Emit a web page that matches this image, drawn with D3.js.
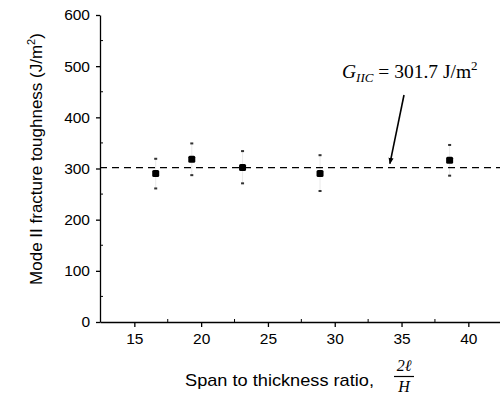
<!DOCTYPE html>
<html>
<head>
<meta charset="utf-8">
<script src="https://cdn.jsdelivr.net/npm/d3@7"></script>
<style>
  html, body { margin: 0; padding: 0; background: #fff; }
  svg { display: block; }
  .axis text { font-family: Arial, "Liberation Sans", sans-serif; font-size: 15.5px; fill: #000; }
</style>
</head>
<body>
<svg id="chart" width="500" height="395"></svg>
<script>
// data
const spanRatio = [16.6, 19.3, 23.1, 28.9, 38.6];
const toughness = [290, 318, 302, 290, 316];
const errUpper = [319, 349, 334, 326, 346];
const errLower = [261, 287, 271, 256, 286];
const meanToughness = 301.7;
const xTicks = [15, 20, 25, 30, 35, 40];
const xMinorTicks = [17.5, 22.5, 27.5, 32.5, 37.5, 42.5];
const yTicks = [0, 100, 200, 300, 400, 500, 600];
const yMinorTicks = [50, 150, 250, 350, 450, 550];

const width = 500;
const height = 395;
const svg = d3.select('#chart').attr('viewBox', `0 0 ${width} ${height}`);

const x = d3.scaleLinear().domain([12.43, 42.37]).range([100, 500]);
const y = d3.scaleLinear().domain([0, 600]).range([322, 15]);
const points = spanRatio.map((s, i) => ({ s, g: toughness[i], hi: errUpper[i], lo: errLower[i] }));

// axes: majors outward, minors inward
const xAxis = svg.append('g').attr('class', 'axis').attr('transform', `translate(0, ${y(0)})`)
  .call(d3.axisBottom(x).tickValues(xTicks).tickSize(5).tickPadding(6).tickSizeOuter(0));
xAxis.select('.domain').attr('stroke', '#000').attr('stroke-width', 1.3);
xAxis.selectAll('.tick line').attr('stroke-width', 1.3);
xAxis.selectAll('text').attr('dy', '0.71em');
svg.append('g').attr('transform', `translate(0, ${y(0)})`)
  .selectAll('line').data(xMinorTicks).join('line')
  .attr('x1', (d) => x(d)).attr('x2', (d) => x(d)).attr('y1', 0).attr('y2', -3)
  .attr('stroke', '#000').attr('stroke-width', 1);

const yAxis = svg.append('g').attr('class', 'axis').attr('transform', `translate(${x(12.43)}, 0)`)
  .call(d3.axisLeft(y).tickValues(yTicks).tickSize(4).tickPadding(6).tickSizeOuter(0));
yAxis.select('.domain').attr('stroke', '#000').attr('stroke-width', 1.3);
yAxis.selectAll('.tick line').attr('stroke-width', 1.3);
svg.append('g').attr('transform', `translate(${x(12.43)}, 0)`)
  .selectAll('line').data(yMinorTicks).join('line')
  .attr('x1', 0).attr('x2', 3).attr('y1', (d) => y(d)).attr('y2', (d) => y(d))
  .attr('stroke', '#000').attr('stroke-width', 1);

// mean line
svg.append('line')
  .attr('x1', x(12.43)).attr('x2', x(42.37))
  .attr('y1', y(meanToughness)).attr('y2', y(meanToughness))
  .attr('stroke', '#000').attr('stroke-width', 1.3).attr('stroke-dasharray', '7,5');

// error bars (faint stems, small caps)
const bars = svg.append('g');
bars.selectAll('line.stem').data(points).join('line').attr('class', 'stem')
  .attr('x1', (d) => x(d.s)).attr('x2', (d) => x(d.s))
  .attr('y1', (d) => y(d.hi)).attr('y2', (d) => y(d.lo))
  .attr('stroke', '#000').attr('stroke-width', 0.6).attr('stroke-opacity', 0.15);
bars.selectAll('rect.cap').data(points.flatMap((d) => [{ s: d.s, v: d.hi }, { s: d.s, v: d.lo }])).join('rect')
  .attr('class', 'cap')
  .attr('x', (d) => x(d.s) - 1.5).attr('y', (d) => y(d.v) - 1)
  .attr('width', 3).attr('height', 2).attr('fill', '#333');

// markers
svg.append('g').selectAll('rect.pt').data(points).join('rect').attr('class', 'pt')
  .attr('x', (d) => x(d.s) - 3.5).attr('y', (d) => y(d.g) - 3.5)
  .attr('width', 7).attr('height', 7).attr('rx', 1.5).attr('fill', '#000');

// annotation
const note = svg.append('text').attr('x', 342).attr('y', 78)
  .attr('font-family', '"Liberation Serif", "Times New Roman", serif').attr('font-size', 19.5).attr('fill', '#000');
note.append('tspan').attr('font-style', 'italic').text('G');
note.append('tspan').attr('font-style', 'italic').attr('font-size', 13).attr('dy', 4).text('IIC');
note.append('tspan').attr('dy', -4).text(' = 301.7 J/m');
note.append('tspan').attr('font-size', 13).attr('dy', -8).text('2');

svg.append('defs').append('marker').attr('id', 'arrow').attr('viewBox', '0 0 10 10')
  .attr('refX', 9).attr('refY', 5).attr('markerWidth', 4).attr('markerHeight', 5).attr('orient', 'auto')
  .append('path').attr('d', 'M0,1 L10,5 L0,9 Z').attr('fill', '#000');
svg.append('line')
  .attr('x1', 404).attr('y1', 95).attr('x2', x(34.13)).attr('y2', y(meanToughness) - 4)
  .attr('stroke', '#000').attr('stroke-width', 1.6).attr('marker-end', 'url(#arrow)');

// axis titles
const yTitle = svg.append('text').attr('transform', 'translate(42, 159) rotate(-90)')
  .attr('text-anchor', 'middle')
  .attr('font-family', 'Arial, "Liberation Sans", sans-serif').attr('font-size', 17).attr('fill', '#000');
yTitle.append('tspan').text('Mode II fracture toughness (J/m');
yTitle.append('tspan').attr('font-size', 11).attr('dy', -7).text('2');
yTitle.append('tspan').attr('dy', 7).text(')');

svg.append('text').attr('x', 185).attr('y', 386)
  .attr('font-family', 'Arial, "Liberation Sans", sans-serif').attr('font-size', 17).attr('fill', '#000')
  .attr('textLength', 189).attr('lengthAdjust', 'spacingAndGlyphs')
  .text('Span to thickness ratio,');
const frac = svg.append('g').attr('font-family', '"Liberation Serif", "Times New Roman", serif')
  .attr('font-style', 'italic').attr('font-size', 16).attr('text-anchor', 'middle').attr('fill', '#000');
frac.append('text').attr('x', 404).attr('y', 371).text('2ℓ');
frac.append('line').attr('x1', 394).attr('x2', 414).attr('y1', 376.5).attr('y2', 376.5)
  .attr('stroke', '#000').attr('stroke-width', 1.2);
frac.append('text').attr('x', 404).attr('y', 392).text('H');
</script>
</body>
</html>
